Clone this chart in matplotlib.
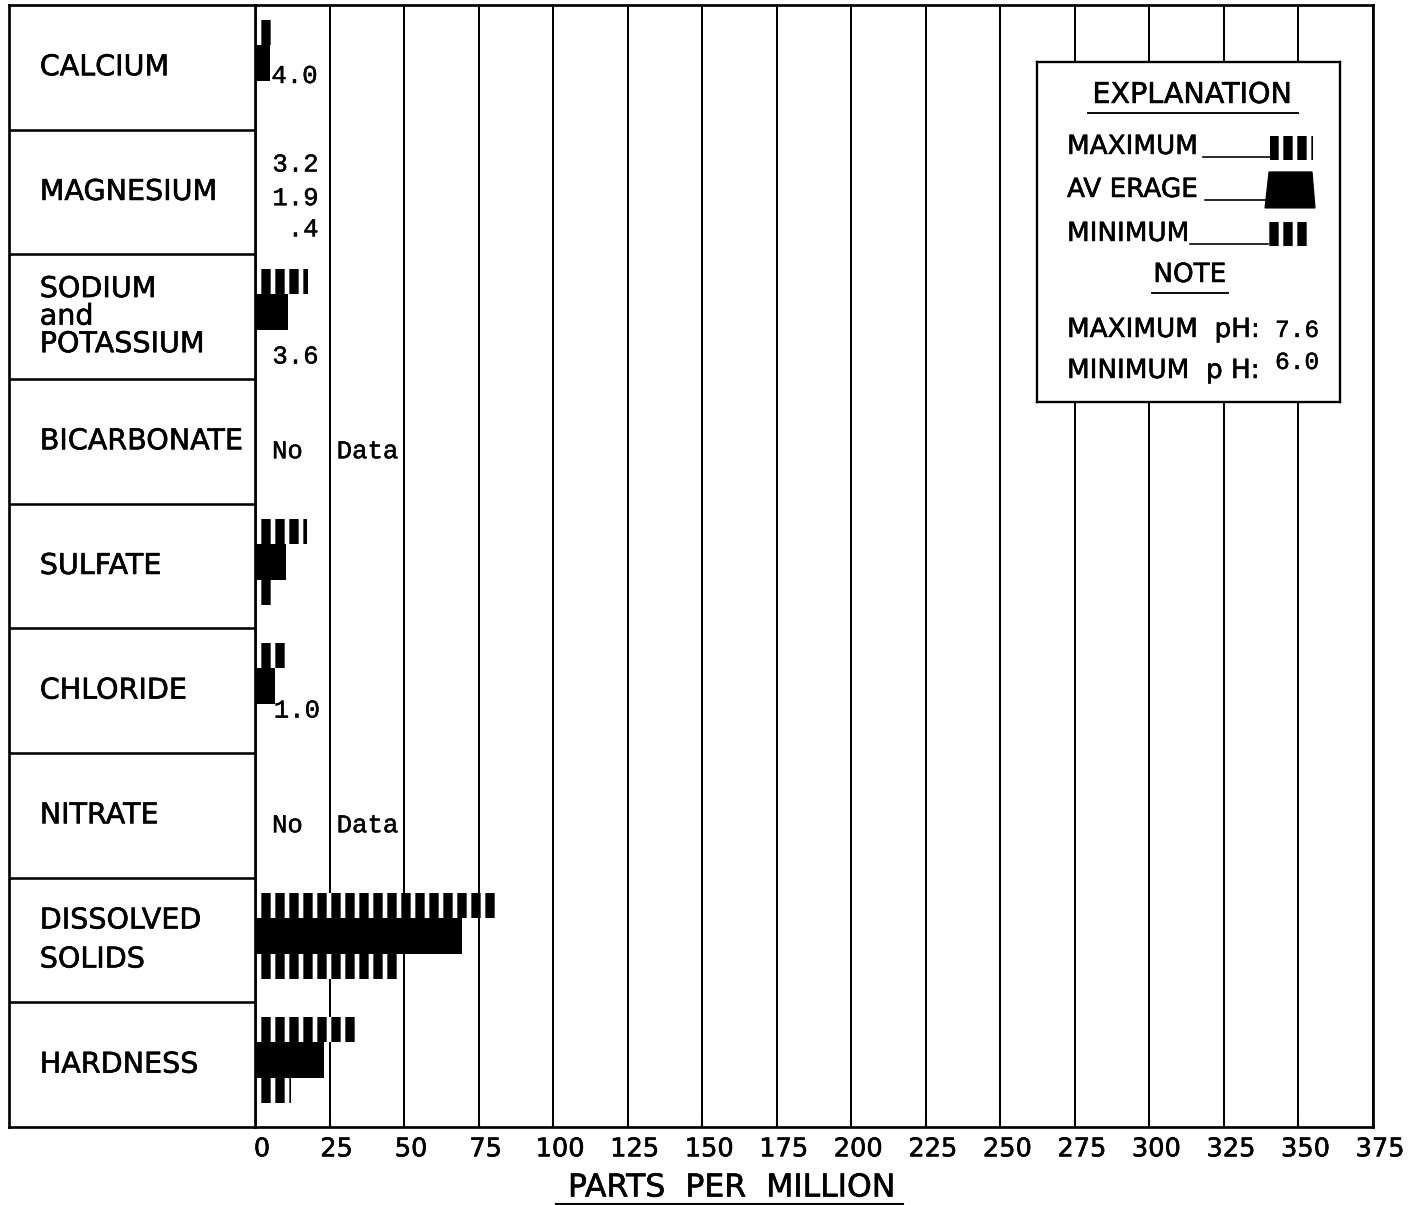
import numpy as np
import matplotlib
matplotlib.use('Agg')
import matplotlib.pyplot as plt
from matplotlib.patches import Polygon, Rectangle
from matplotlib.lines import Line2D
import matplotlib.transforms as mtransforms
import matplotlib.patheffects as pe

# ---------------- data ----------------
categories = ['CALCIUM', 'MAGNESIUM', 'SODIUM\nand\nPOTASSIUM', 'BICARBONATE',
              'SULFATE', 'CHLORIDE', 'NITRATE', 'DISSOLVED\nSOLIDS', 'HARDNESS']
max_ppm = [6.0, np.nan, 17.8, np.nan, 17.5, 11.0, np.nan, 82.0, 34.0]
avg_ppm = [5.0, np.nan, 11.0, np.nan, 10.5, 6.7, np.nan, 69.5, 23.0]
min_ppm = [np.nan, np.nan, np.nan, np.nan, 6.5, np.nan, np.nan, 48.0, 12.0]
# small values written as figures instead of bars
small_rows = [0, 1, 1, 1, 2, 5]
small_kind = ['min', 'max', 'avg', 'min', 'min', 'min']
small_text = ['4.0', '3.2', '1.9', '.4', '3.6', '1.0']
no_data_rows = [3, 6]
x_ticks = list(range(0, 376, 25))
ph_max_text = '7.6'
ph_min_text = '6.0'
xlabel = 'PARTS  PER  MILLION'

# ---------------- style ----------------
DPI = 84
W, H = 1411, 1205
plt.rcParams['font.family'] = ['DejaVu Sans']
plt.rcParams['hatch.linewidth'] = 4.0
MONO = 'Liberation Mono'
BOLDISH = [pe.withStroke(linewidth=0.5, foreground='black')]
MONOFX = [pe.withStroke(linewidth=0.4, foreground='black')]


def fx(px):
    return px / W


def fy(py):
    return 1 - py / H


fig = plt.figure(figsize=(16.798, 14.346), dpi=DPI)
fig.patch.set_facecolor('white')

top, bottom = 5, 1127
ax = fig.add_axes([fx(255), fy(bottom), (1373 - 255) / W, (bottom - top) / H])
lab = fig.add_axes([fx(9), fy(bottom), (255 - 9) / W, (bottom - top) / H])

n = len(categories)
rows = np.arange(n)

# ---- main axes ----
ax.set_xlim(0, 375)
ax.set_ylim(n, 0)
ax.set_xticks(x_ticks)
ax.set_xticklabels([str(t) for t in x_ticks], fontsize=22)
ax.set_yticks([])
ax.tick_params(axis='x', direction='in', length=7, width=1.8, pad=8)
ax.grid(axis='x', color='black', linewidth=1.7)
ax.set_axisbelow(True)
for s in ax.spines.values():
    s.set_linewidth(2.3)
offset = mtransforms.ScaledTranslation(7 / DPI, 0, fig.dpi_scale_trans)
for lbl in ax.get_xticklabels():
    lbl.set_transform(lbl.get_transform() + offset)
    lbl.set_path_effects(BOLDISH)

hatch_kw = dict(color='black', edgecolor='white', linewidth=0, hatch='|', zorder=3)
ax.barh(rows + 0.22, np.nan_to_num(max_ppm), height=0.20, left=0, align='center', **hatch_kw)
ax.barh(rows + 0.465, np.nan_to_num(avg_ppm), height=0.29, left=0, align='center',
        color='black', linewidth=0, zorder=3)
ax.barh(rows + 0.71, np.nan_to_num(min_ppm), height=0.20, left=0, align='center', **hatch_kw)

# placements of written figures
place = {
    (0, 'min'): (5.5, 0.57, 'left'),
    (1, 'max'): (21.3, 0.28, 'right'),
    (1, 'avg'): (21.3, 0.55, 'right'),
    (1, 'min'): (21.3, 0.80, 'right'),
    (2, 'min'): (21.3, 0.82, 'right'),
    (5, 'min'): (6.3, 0.66, 'left'),
}
for r, k, t in zip(small_rows, small_kind, small_text):
    x, yo, ha = place[(r, k)]
    ax.text(x, r + yo, t, ha=ha, va='center', fontsize=22, family=MONO, zorder=4,
            path_effects=MONOFX)

for r in no_data_rows:
    ax.text(5.7, r + 0.58, 'No', ha='left', va='center', fontsize=22, family=MONO, zorder=4,
            path_effects=MONOFX)
    ax.text(27.4, r + 0.58, 'Data', ha='left', va='center', fontsize=22, family=MONO, zorder=4,
            path_effects=MONOFX)

# ---- label column ----
lab.set_xlim(0, 1)
lab.set_ylim(n, 0)
lab.set_xticks([])
lab.set_yticks([])
for s in lab.spines.values():
    s.set_linewidth(2.3)
for b in range(1, n):
    lab.axhline(b, color='black', linewidth=2.2)
for i, c in enumerate(categories):
    ls = 1.5 if 'DISSOLVED' in c else 0.98
    lab.text(0.125, i + 0.5, c, ha='left', va='center', fontsize=24.5, linespacing=ls,
             path_effects=BOLDISH)

# ---- x label ----
fig.text(fx(732), fy(1188), xlabel, ha='center', va='center', fontsize=27,
         path_effects=BOLDISH)
fig.add_artist(Line2D([fx(556), fx(903)], [fy(1204), fy(1204)], color='black', linewidth=1.8))

# ---- explanation box ----
lg = fig.add_axes([fx(1037), fy(402), 303 / W, 340 / H])
lg.set_xlim(0, 303)
lg.set_ylim(340, 0)
lg.set_xticks([])
lg.set_yticks([])
lg.set_facecolor('white')
for s in lg.spines.values():
    s.set_linewidth(2.0)

lg.text(155, 33, 'EXPLANATION', ha='center', va='center', fontsize=24.5, path_effects=BOLDISH)
lg.plot([51, 261], [51, 51], color='black', lw=1.6)

lg.text(30, 85, 'MAXIMUM', ha='left', va='center', fontsize=22.5, path_effects=BOLDISH)
lg.plot([166, 233], [95, 95], color='black', lw=1.4)
lg.add_patch(Rectangle((233, 74), 43, 24, facecolor='black', edgecolor='white',
                       linewidth=0, hatch='|'))

lg.text(30, 128, 'AV ERAGE', ha='left', va='center', fontsize=22.5, path_effects=BOLDISH)
lg.plot([168, 229], [138, 138], color='black', lw=1.4)
lg.add_patch(Polygon([(228, 146), (232, 110), (275, 110), (278, 146)],
                     closed=True, facecolor='black', edgecolor='black'))

lg.text(30, 172, 'MINIMUM', ha='left', va='center', fontsize=22.5, path_effects=BOLDISH)
lg.plot([153, 231], [182, 182], color='black', lw=1.4)
lg.add_patch(Rectangle((231, 160), 43, 24, facecolor='black', edgecolor='white',
                       linewidth=0, hatch='|'))

lg.text(153, 213, 'NOTE', ha='center', va='center', fontsize=22.5, path_effects=BOLDISH)
lg.plot([115, 191], [231, 231], color='black', lw=1.6)

lg.text(30, 268, 'MAXIMUM  pH:', ha='left', va='center', fontsize=22.5, path_effects=BOLDISH)
lg.text(238, 268, ph_max_text, ha='left', va='center', fontsize=21, family=MONO,
        path_effects=MONOFX)
lg.text(30, 309, 'MINIMUM  p H:', ha='left', va='center', fontsize=22.5, path_effects=BOLDISH)
lg.text(238, 300, ph_min_text, ha='left', va='center', fontsize=21, family=MONO,
        path_effects=MONOFX)

fig.savefig('out.png', dpi=DPI, facecolor='white')
